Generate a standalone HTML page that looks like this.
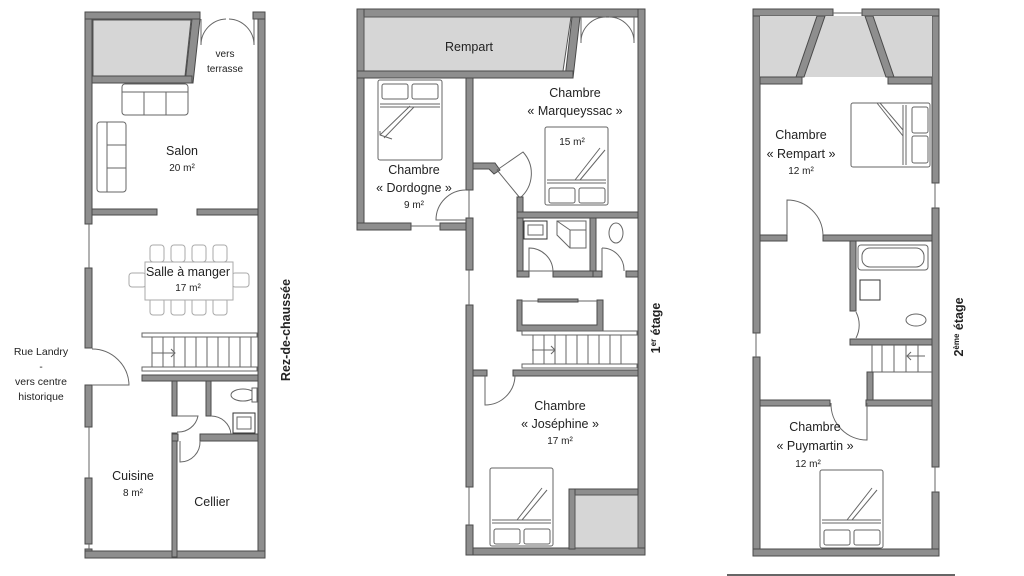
<!DOCTYPE html>
<html><head><meta charset="utf-8"><style>
html,body{margin:0;padding:0;background:#fff;}
svg{display:block;}
text{font-family:"Liberation Sans",sans-serif;fill:#222;}
.w{fill:#8e8e8e;stroke:#4a4a4a;stroke-width:1;}
.g{fill:#d6d6d6;stroke:#555;stroke-width:1;}
.f{fill:#fff;stroke:#666;stroke-width:1;}
.l{fill:none;stroke:#666;stroke-width:1;}
.t{font-size:12.5px;text-anchor:middle;}
.s{font-size:10px;text-anchor:middle;}
</style></head><body>
<svg width="1024" height="576" viewBox="0 0 1024 576" xmlns="http://www.w3.org/2000/svg">
<!-- ================= PLAN 1 ================= -->
<!-- outer walls -->
<rect class="w" x="85" y="12" width="7" height="212"/>
<rect class="w" x="85" y="268" width="7" height="80"/>
<rect class="w" x="85" y="385" width="7" height="42"/>
<rect class="w" x="85" y="478" width="7" height="66"/>
<rect class="w" x="85" y="549" width="7" height="8"/>
<line class="l" x1="89" y1="224" x2="89" y2="268"/><line class="l" x1="89" y1="427" x2="89" y2="478"/><line class="l" x1="89" y1="544" x2="89" y2="549"/>
<rect class="w" x="258" y="12" width="7" height="545"/>
<rect class="w" x="85" y="12" width="115" height="7"/>
<rect class="w" x="253" y="12" width="12" height="7"/>
<rect class="w" x="85" y="551" width="180" height="7"/>
<!-- storage -->
<polygon class="g" points="93,20 191,20 185,76 93,76"/>
<polygon class="w" points="192,19 200,19 193,83 185,83"/>
<rect class="w" x="92" y="76" width="100" height="7"/>
<!-- french doors -->
<path class="l" d="M201,19 V45 A26 26 0 0 1 226,19 M254,19 V45 A26 26 0 0 0 229,19"/>
<text class="s" x="225" y="57">vers</text><text class="s" x="225" y="72">terrasse</text>
<!-- sofas -->
<rect class="f" x="122" y="84" width="66" height="31" rx="3"/><line class="l" x1="122" y1="92" x2="188" y2="92"/><line class="l" x1="144" y1="92" x2="144" y2="115"/><line class="l" x1="166" y1="92" x2="166" y2="115"/>
<rect class="f" x="97" y="122" width="29" height="70" rx="3"/><line class="l" x1="107" y1="122" x2="107" y2="192"/><line class="l" x1="107" y1="145" x2="126" y2="145"/><line class="l" x1="107" y1="168" x2="126" y2="168"/>
<text class="t" x="182" y="155">Salon</text><text class="s" x="182" y="171">20 m²</text>
<rect class="w" x="92" y="209" width="65" height="6"/>
<rect class="w" x="197" y="209" width="61" height="6"/>
<!-- dining -->
<g class="f" style="stroke:#aaa">
<rect x="150" y="245" width="14" height="17" rx="3"/><rect x="171" y="245" width="14" height="17" rx="3"/><rect x="192" y="245" width="14" height="17" rx="3"/><rect x="213" y="245" width="14" height="17" rx="3"/>
<rect x="150" y="298" width="14" height="17" rx="3"/><rect x="171" y="298" width="14" height="17" rx="3"/><rect x="192" y="298" width="14" height="17" rx="3"/><rect x="213" y="298" width="14" height="17" rx="3"/>
<rect x="129" y="273" width="17" height="14" rx="3"/><rect x="232" y="273" width="17" height="14" rx="3"/>
<rect x="145" y="262" width="88" height="38"/>
</g>
<text class="t" x="188" y="276">Salle à manger</text><text class="s" x="188" y="291">17 m²</text>
<!-- stairs -->
<rect class="l" x="142" y="333" width="115" height="4"/><rect class="l" x="142" y="367" width="115" height="4"/>
<g class="l"><path d="M152,337V367M163,337V367M174,337V367M185,337V367M196,337V367M207,337V367M218,337V367M229,337V367M240,337V367M251,337V367"/><path d="M152,353H175M171,349L175,353L171,357"/></g>
<rect class="w" x="142" y="375" width="116" height="6"/>
<!-- entrance door -->
<path class="l" d="M92,349 A37 37 0 0 1 129,385 H92"/>
<!-- lower walls -->
<rect class="w" x="172" y="381" width="5" height="35"/>
<rect class="w" x="172" y="433" width="5" height="124"/>
<rect class="w" x="206" y="381" width="5" height="35"/>
<rect class="w" x="200" y="434" width="58" height="7"/>
<rect class="w" x="172" y="434" width="6" height="7"/>
<path class="l" d="M177,416 H198 A20 20 0 0 1 177,432 M211,416 A20 20 0 0 1 231,434 M180,441 V462 A20 20 0 0 0 200,441"/>
<ellipse class="f" cx="243" cy="395" rx="12" ry="6"/><rect class="f" x="252" y="388" width="5" height="14"/>
<rect class="f" x="233" y="413" width="22" height="20" style="stroke:#333"/><rect class="f" x="237" y="417" width="14" height="12"/>
<text class="t" x="133" y="480">Cuisine</text><text class="s" x="133" y="496">8 m²</text>
<text class="t" x="212" y="506">Cellier</text>
<text class="s" x="41" y="355" style="font-size:10.5px">Rue Landry</text>
<text class="s" x="41" y="370">-</text>
<text class="s" x="41" y="385" style="font-size:10.5px">vers centre</text>
<text class="s" x="41" y="400" style="font-size:10.5px">historique</text>
<text x="0" y="0" transform="translate(290,330) rotate(-90)" style="font-size:12.5px;font-weight:bold;text-anchor:middle">Rez-de-chaussée</text>

<!-- ================= PLAN 2 ================= -->
<rect class="w" x="357" y="9" width="288" height="8"/>
<rect class="w" x="357" y="9" width="7" height="221"/>
<rect class="w" x="357" y="223" width="54" height="7"/>
<rect class="w" x="440" y="223" width="33" height="7"/>
<line class="l" x1="411" y1="226" x2="440" y2="226"/>
<rect class="w" x="638" y="9" width="7" height="546"/>
<rect class="w" x="466" y="548" width="179" height="7"/>
<rect class="w" x="466" y="78" width="7" height="112"/>
<rect class="w" x="466" y="218" width="7" height="52"/>
<rect class="w" x="466" y="305" width="7" height="182"/>
<rect class="w" x="466" y="525" width="7" height="30"/>
<line class="l" x1="469" y1="190" x2="469" y2="218"/><line class="l" x1="469" y1="270" x2="469" y2="305"/><line class="l" x1="469" y1="487" x2="469" y2="525"/>
<!-- rempart -->
<polygon class="g" points="364,17 571,17 563,71 364,71"/>
<polygon class="w" points="572,17 580,17 573,78 565,78"/>
<rect class="w" x="357" y="71" width="216" height="7"/>
<text class="t" x="469" y="51">Rempart</text>
<path class="l" d="M581,17 V43 A25 25 0 0 1 606,17 M634,17 V43 A25 25 0 0 0 609,17"/>
<!-- dordogne -->
<rect class="f" x="378" y="80" width="64" height="80" rx="2"/>
<rect class="f" x="382" y="84" width="26" height="15" rx="2"/><rect class="f" x="412" y="84" width="26" height="15" rx="2"/>
<path class="l" d="M380,104H440M380,107H440M380,135L410,106M384,138L414,107M380,131V135L392,139"/>
<text class="t" x="414" y="174">Chambre</text><text class="t" x="414" y="192">« Dordogne »</text><text class="s" x="414" y="208">9 m²</text>
<path class="l" d="M466,190 A30 30 0 0 0 436,220 H466"/>
<!-- marqueyssac -->
<polygon class="w" points="473,163 495,163 500,170 494,174 489,169 473,169"/>
<path class="l" d="M497,170 L523,152 A32 32 0 0 1 520,198 Z"/>
<rect class="w" x="517" y="197" width="6" height="80"/>
<rect class="w" x="517" y="212" width="121" height="6"/>
<rect class="f" x="545" y="127" width="63" height="78" rx="2"/>
<rect class="f" x="549" y="188" width="26" height="15" rx="2"/><rect class="f" x="579" y="188" width="26" height="15" rx="2"/>
<path class="l" d="M547,180H606M547,183H606M580,180L605,150M575,180L600,148"/>
<text class="t" x="575" y="97">Chambre</text><text class="t" x="575" y="115">« Marqueyssac »</text><text class="s" x="572" y="145">15 m²</text>
<!-- bath -->
<rect class="w" x="590" y="218" width="6" height="59"/>
<rect class="w" x="517" y="271" width="12" height="6"/><rect class="w" x="553" y="271" width="40" height="6"/><rect class="w" x="593" y="271" width="9" height="6"/><rect class="w" x="626" y="271" width="12" height="6"/>
<rect class="f" x="524" y="221" width="23" height="18" style="stroke:#333"/><rect class="f" x="528" y="225" width="15" height="10"/>
<polygon class="f" points="557,221 586,221 586,248 570,248 557,235"/><path class="l" d="M570,230L557,221M570,230L586,230M570,230L570,248"/>
<ellipse class="f" cx="616" cy="233" rx="7" ry="10"/>
<path class="l" d="M529,248 A24 24 0 0 1 553,271 H529 Z M602,248 A22 22 0 0 1 624,271"/>
<line class="l" x1="529" y1="248" x2="529" y2="271"/><line class="l" x1="602" y1="248" x2="602" y2="271"/>
<!-- stair box -->
<path class="w" d="M517,300 H522 V325 H597 V300 H603 V331 H517 Z"/>
<line class="l" x1="522" y1="301" x2="597" y2="301"/><rect class="w" x="538" y="299" width="40" height="3"/>
<rect class="l" x="522" y="331" width="115" height="4"/><rect class="l" x="522" y="364" width="115" height="4"/>
<path class="l" d="M533,335V364M544,335V364M555,335V364M566,335V364M577,335V364M588,335V364M599,335V364M610,335V364M621,335V364M532,350H555M551,346L555,350L551,354"/>
<rect class="w" x="513" y="370" width="125" height="6"/>
<rect class="w" x="473" y="370" width="14" height="6"/>
<path class="l" d="M485,376 V405 A30 30 0 0 0 515,376"/>
<text class="t" x="560" y="410">Chambre</text><text class="t" x="560" y="428">« Joséphine »</text><text class="s" x="560" y="444">17 m²</text>
<rect class="f" x="490" y="468" width="63" height="78" rx="2"/>
<rect class="f" x="494" y="529" width="26" height="15" rx="2"/><rect class="f" x="524" y="529" width="26" height="15" rx="2"/>
<path class="l" d="M492,520H551M492,523H551M522,520L547,490M517,520L542,488"/>
<rect class="w" x="569" y="489" width="69" height="6"/>
<rect class="w" x="569" y="489" width="6" height="60"/>
<rect class="g" x="575" y="495" width="63" height="53"/>
<text x="0" y="0" transform="translate(660,328) rotate(-90)" style="font-size:12.5px;font-weight:bold;text-anchor:middle">1<tspan style="font-size:8px" dy="-4">er</tspan><tspan dy="4"> étage</tspan></text>

<!-- ================= PLAN 3 ================= -->
<rect class="w" x="753" y="9" width="7" height="324"/>
<rect class="w" x="753" y="357" width="7" height="199"/>
<line class="l" x1="756" y1="333" x2="756" y2="357"/>
<rect class="w" x="932" y="9" width="7" height="174"/>
<rect class="w" x="932" y="208" width="7" height="259"/>
<rect class="w" x="932" y="492" width="7" height="64"/>
<line class="l" x1="935" y1="183" x2="935" y2="208"/><line class="l" x1="935" y1="467" x2="935" y2="492"/>
<rect class="w" x="753" y="9" width="80" height="7"/><rect class="w" x="862" y="9" width="77" height="7"/>
<line class="l" x1="833" y1="13" x2="862" y2="13"/>
<rect class="w" x="753" y="549" width="186" height="7"/>
<rect class="g" x="760" y="16" width="172" height="61" style="stroke:none"/>
<polygon class="w" points="817,16 825,16 804,77 796,77"/>
<polygon class="w" points="865,16 873,16 894,77 886,77"/>
<rect class="w" x="760" y="77" width="42" height="7"/><rect class="w" x="888" y="77" width="44" height="7"/>
<rect class="f" x="851" y="103" width="79" height="64" rx="2"/>
<rect class="f" x="912" y="107" width="16" height="26" rx="2"/><rect class="f" x="912" y="136" width="16" height="27" rx="2"/>
<path class="l" d="M903,105V165M906,105V165M903,136L877,103M903,130L880,103"/>
<text class="t" x="801" y="139">Chambre</text><text class="t" x="801" y="158">« Rempart »</text><text class="s" x="801" y="174">12 m²</text>
<rect class="w" x="760" y="235" width="27" height="6"/><rect class="w" x="823" y="235" width="109" height="6"/>
<path class="l" d="M787,235 V200 A36 36 0 0 1 823,235"/>
<rect class="w" x="850" y="241" width="6" height="70"/>
<rect class="f" x="858" y="245" width="70" height="25" rx="3"/><rect class="f" x="862" y="248" width="62" height="19" rx="8"/>
<rect class="f" x="860" y="280" width="20" height="20" style="stroke:#333"/>
<ellipse class="f" cx="916" cy="320" rx="10" ry="6"/>
<path class="l" d="M856,312 A28 28 0 0 1 856,338"/>
<rect class="w" x="850" y="339" width="82" height="6"/>
<path class="l" d="M872,345V372H932M882,345V372M894,345V372M906,345V372M918,345V372M907,356H925M911,352L907,356L911,360"/>
<rect class="w" x="867" y="372" width="6" height="28"/>
<rect class="w" x="760" y="400" width="70" height="6"/><rect class="w" x="866" y="400" width="66" height="6"/>
<path class="l" d="M831,403 A36 36 0 0 0 867,440 V403"/>
<text class="t" x="815" y="431">Chambre</text><text class="t" x="815" y="450">« Puymartin »</text><text class="s" x="808" y="467">12 m²</text>
<rect class="f" x="820" y="470" width="63" height="78" rx="2"/>
<rect class="f" x="824" y="530" width="26" height="15" rx="2"/><rect class="f" x="854" y="530" width="26" height="15" rx="2"/>
<path class="l" d="M822,520H881M822,523H881M852,520L877,490M847,520L872,488"/>
<text x="0" y="0" transform="translate(963,327) rotate(-90)" style="font-size:12.5px;font-weight:bold;text-anchor:middle">2<tspan style="font-size:8px" dy="-4">ème</tspan><tspan dy="4"> étage</tspan></text>
<line x1="727" y1="575" x2="955" y2="575" stroke="#333" stroke-width="1.5"/>
</svg>
</body></html>
